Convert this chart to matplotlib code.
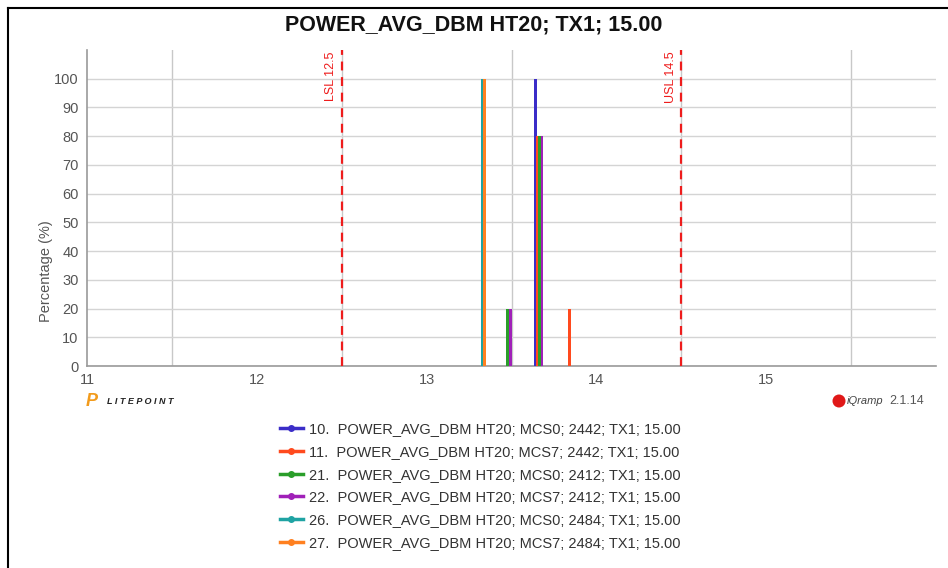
import matplotlib
matplotlib.use("Agg")
import matplotlib.pyplot as plt
from matplotlib.lines import Line2D
from matplotlib.patches import Ellipse

plt.rcParams["font.family"] = ["Liberation Sans", "DejaVu Sans"]

# ---- data ----
series_labels = [
    "10.  POWER_AVG_DBM HT20; MCS0; 2442; TX1; 15.00",
    "11.  POWER_AVG_DBM HT20; MCS7; 2442; TX1; 15.00",
    "21.  POWER_AVG_DBM HT20; MCS0; 2412; TX1; 15.00",
    "22.  POWER_AVG_DBM HT20; MCS7; 2412; TX1; 15.00",
    "26.  POWER_AVG_DBM HT20; MCS0; 2484; TX1; 15.00",
    "27.  POWER_AVG_DBM HT20; MCS7; 2484; TX1; 15.00",
]
series_colors = ["#3b2dc8", "#ff4a1e", "#2a9e2a", "#a020b8", "#1fa3a3", "#ff8020"]
series_x = [
    [13.64],
    [13.652, 13.84],
    [13.665, 13.478],
    [13.68, 13.492],
    [13.328],
    [13.343],
]
series_pct = [
    [100],
    [80, 20],
    [80, 20],
    [80, 20],
    [100],
    [100],
]
lsl = 12.5
usl = 14.5
x_ticks = [11, 12, 13, 14, 15]
y_ticks = [0, 10, 20, 30, 40, 50, 60, 70, 80, 90, 100]
title = "POWER_AVG_DBM HT20; TX1; 15.00"

W, H = 948, 568
fig = plt.figure(figsize=(W / 100, H / 100), dpi=100)
ax = fig.add_axes([87 / W, 1 - 366 / H, (936 - 87) / W, (366 - 50) / H])

for xs, ps, c in zip(series_x, series_pct, series_colors):
    ax.bar(xs, ps, width=0.016, color=c, linewidth=0, zorder=3)

ax.set_xlim(11, 16)
ax.set_ylim(0, 110)
ax.set_xticks(x_ticks)
ax.set_xticks([11.5, 12.5, 13.5, 14.5, 15.5], minor=True)
ax.set_yticks(y_ticks)
ax.grid(False)
ax.grid(True, which="minor", axis="x", color="#c8c8c8", linewidth=1, zorder=0)
ax.grid(True, which="major", axis="y", color="#d4d4d4", linewidth=1, zorder=0)
for s in ["top", "right"]:
    ax.spines[s].set_visible(False)
for s in ["left", "bottom"]:
    ax.spines[s].set_color("#9a9a9a")
    ax.spines[s].set_linewidth(1.2)
ax.tick_params(axis="both", which="both", length=0, colors="#555555", labelsize=10.5)
ax.tick_params(axis="x", pad=5)
ax.tick_params(axis="y", pad=6)
ax.set_ylabel("Percentage (%)", color="#555555", fontsize=10.5)
ax.yaxis.set_label_coords(-0.040, 0.30)

for val, lab in [(lsl, "LSL 12.5"), (usl, "USL 14.5")]:
    ax.axvline(val, color="#ee1c1c", linestyle=(0, (4, 3)), linewidth=1.6, zorder=4)
    ax.text(val - 0.025, 109.5, lab, rotation=90, color="#ee1c1c", fontsize=9,
            ha="right", va="top", zorder=5)

fig.text(0.5, 1 - 25 / H, title, ha="center", va="center", fontsize=15.5,
         fontweight="bold", color="#111111")

# legend
handles = [Line2D([0], [0], color=c, marker="o", markersize=4, linewidth=2.5)
           for c in series_colors]
leg = fig.legend(handles, series_labels, loc="upper center",
                 bbox_to_anchor=(480 / W, 1 - 409 / H), frameon=False,
                 fontsize=10.5, labelcolor="#333333", handlelength=1.6,
                 handletextpad=0.4, labelspacing=0.6)

# logos
fig.text(86 / W, 1 - 402 / H, "P", color="#f29b1c", fontsize=13, fontweight="bold",
         style="italic", ha="left", va="center")
fig.text(107 / W, 1 - 402 / H, "L I T E P O I N T", color="#222222", fontsize=6.5,
         fontweight="bold", style="italic", ha="left", va="center")
fig.add_artist(Ellipse((839 / W, 1 - 401 / H), 13 / W, 13 / H, transform=fig.transFigure,
                       facecolor="#e01818", edgecolor="none"))
fig.text(847 / W, 1 - 401 / H, "iQramp", color="#444444", fontsize=8, style="italic",
         ha="left", va="center")
fig.text(889 / W, 1 - 401 / H, "2.1.14", color="#555555", fontsize=9,
         ha="left", va="center")

# outer border (left and top)
fig.add_artist(Line2D([8 / W, 8 / W], [0, 1 - 8 / H], color="black", linewidth=1.5,
                      transform=fig.transFigure))
fig.add_artist(Line2D([8 / W, 1], [1 - 8 / H, 1 - 8 / H], color="black", linewidth=1.5,
                      transform=fig.transFigure))

fig.savefig("out.png", dpi=100, facecolor="white")
